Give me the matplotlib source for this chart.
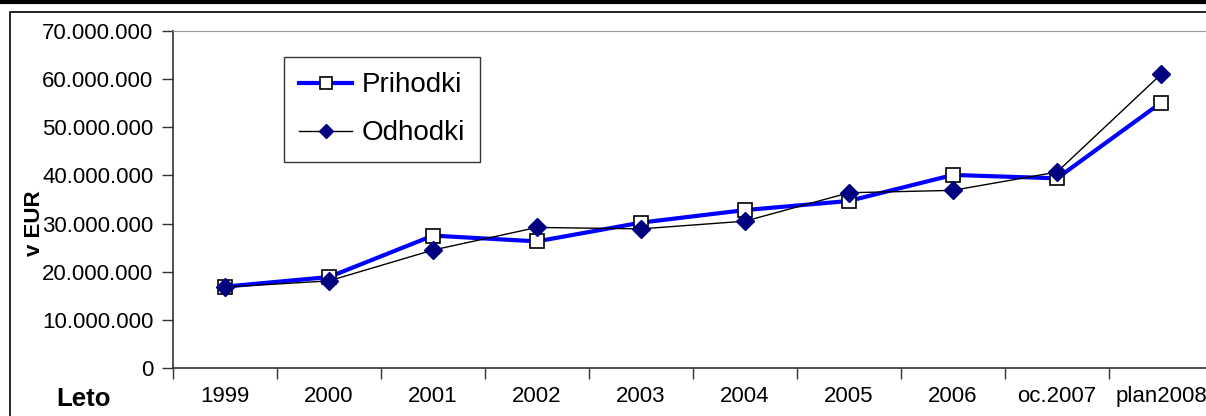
import matplotlib.pyplot as plt
from matplotlib.lines import Line2D
from matplotlib.patches import Rectangle
from matplotlib.ticker import FuncFormatter

plt.rcParams['font.family'] = ['Liberation Sans', 'DejaVu Sans']

# data (EUR)
categories = ['1999', '2000', '2001', '2002', '2003', '2004', '2005', '2006', 'oc.2007', 'plan2008']
prihodki = [16.9e6, 18.9e6, 27.5e6, 26.3e6, 30.2e6, 32.8e6, 34.7e6, 40.1e6, 39.4e6, 55.1e6]
odhodki = [16.8e6, 18.1e6, 24.5e6, 29.2e6, 28.9e6, 30.5e6, 36.4e6, 36.9e6, 40.7e6, 61.0e6]
yticks = [0, 10e6, 20e6, 30e6, 40e6, 50e6, 60e6, 70e6]

W, H = 1206, 416
fig = plt.figure(figsize=(W / 100, H / 100), dpi=100)

# outer decorations: thick line on top, chart frame
fig.add_artist(Line2D([0, 1], [1 - 1.5 / H, 1 - 1.5 / H], color='black', lw=3, transform=fig.transFigure))
fig.add_artist(Rectangle((10 / W, -0.1), 1.2, 1.1 - 12 / H, transform=fig.transFigure,
                         fill=False, edgecolor='black', lw=1.2))

ax = fig.add_axes([173 / W, (H - 368) / H, 1040 / W, 337 / H])
x = [i + 0.5 for i in range(len(categories))]

ax.plot(x, prihodki, color='#0000ff', lw=3, marker='s', markersize=10,
        markerfacecolor='white', markeredgecolor='black', markeredgewidth=1.2,
        label='Prihodki', zorder=3)
ax.plot(x, odhodki, color='black', lw=1, marker='D', markersize=9,
        markerfacecolor='#000080', markeredgecolor='#000080',
        label='Odhodki', zorder=4)

ax.set_xlim(0, len(categories))
ax.set_ylim(0, 70e6)
ax.set_yticks(yticks)
ax.yaxis.set_major_formatter(FuncFormatter(lambda v, p: '0' if v == 0 else f'{int(v):,}'.replace(',', '.')))
ax.set_xticks(x)
ax.set_xticklabels(categories)
ax.set_xticks(range(len(categories) + 1), minor=True)
ax.tick_params(axis='x', which='major', length=0, pad=13, labelsize=16)
ax.tick_params(axis='x', which='minor', length=8, width=1, color='#333333', direction='out')
ax.tick_params(axis='y', length=8, width=1, color='#333333', direction='out', labelsize=16, pad=6)

for s in ['left', 'bottom']:
    ax.spines[s].set_color('#333333')
    ax.spines[s].set_linewidth(1.2)
ax.spines['top'].set_color('#999999')
ax.spines['right'].set_color('#999999')

fig.text(35 / W, 1 - 223 / H, 'v EUR', rotation=90, fontsize=16, fontweight='bold',
         ha='center', va='center')
fig.text(84 / W, 1 - 399 / H, 'Leto', fontsize=18.5, fontweight='bold', ha='center', va='center')

leg = ax.legend(loc='upper left', bbox_to_anchor=((284 - 173) / 1040, 1 - (57 - 31) / 337),
                fontsize=20, frameon=True, fancybox=False, edgecolor='black', markerscale=0.8,
                handlelength=1.9, labelspacing=0.8, borderpad=0.55, handletextpad=0.35,
                borderaxespad=0)
leg.get_frame().set_linewidth(1)

fig.savefig('out.png', dpi=100)
